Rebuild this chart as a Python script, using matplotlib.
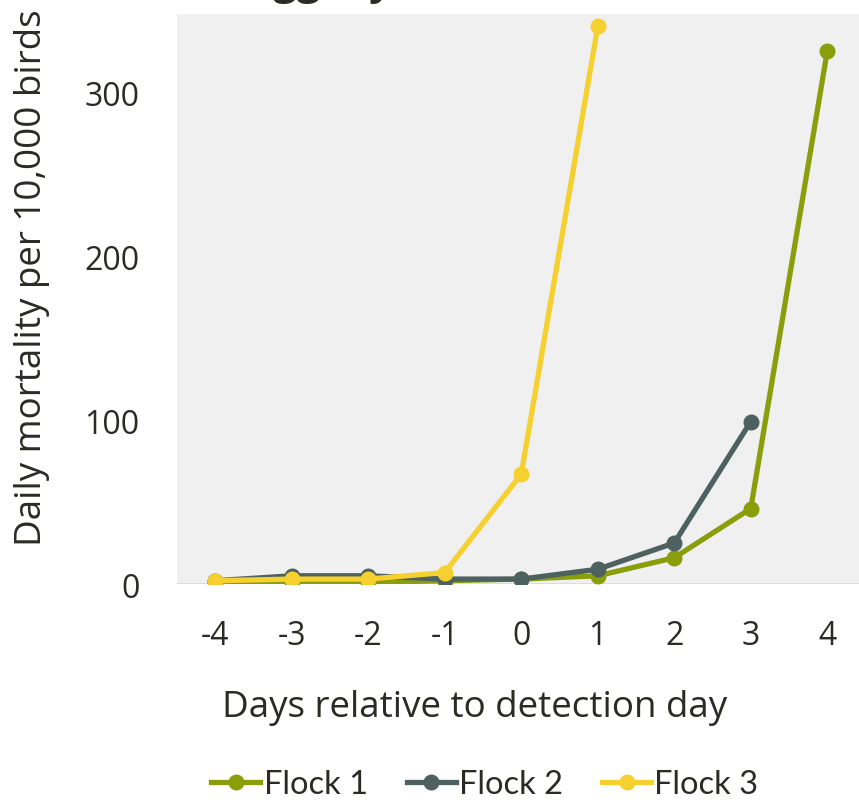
import matplotlib.pyplot as plt

days = [-4, -3, -2, -1, 0, 1, 2, 3, 4]
flock1 = [1, 1, 1, 2, 3, 5, 16, 46, 325]
flock2 = [2, 5, 5, 3, 3, 9, 25, 99]
flock3 = [2, 3, 3, 7, 67, 340]
yticks = [0, 100, 200, 300]

green = "#8A9E0C"
slate = "#4E6161"
yellow = "#F5D02F"
txt = "#2B2A25"

plt.rcParams["font.family"] = ["Open Sans", "DejaVu Sans"]

fig = plt.figure(figsize=(8.59, 8.03), dpi=100)
ax = fig.add_axes([177 / 859, 218 / 803, 682 / 859, 570 / 803])
ax.set_facecolor("#F0F0F0")

ax.plot(days[:len(flock1)], flock1, color=green, lw=3.8, marker="o", ms=10.5, label="Flock 1", zorder=3)
ax.plot(days[:len(flock2)], flock2, color=slate, lw=3.8, marker="o", ms=10.5, label="Flock 2", zorder=4)
ax.plot(days[:len(flock3)], flock3, color=yellow, lw=3.8, marker="o", ms=10.5, label="Flock 3", zorder=5)
ax.axhline(0, color="#DDDAD0", lw=2, zorder=2)

ax.set_xlim(-4.5, 4.415)
ax.set_ylim(0, 347.6)
ax.set_xticks(days)
ax.set_xticklabels([str(d) for d in days])
ax.set_yticks(yticks)
ax.tick_params(length=0, labelsize=23, colors=txt)
ax.tick_params(axis="y", pad=27)
ax.tick_params(axis="x", pad=25)
for s in ax.spines.values():
    s.set_visible(False)

fig.text(222 / 859, 1 - 708 / 803, "Days relative to detection day", fontsize=26.5,
         color=txt, va="center", ha="left")
fig.text(32 / 859, 1 - 278 / 803, "Daily mortality per 10,000 birds", fontsize=26.5,
         color=txt, rotation=90, va="center", ha="center")
# title, mostly cut off at the top of the picture
fig.text(250 / 859, 1 + 6 / 803, "Egg layers", fontsize=30, fontweight="bold",
         color=txt, va="baseline", ha="left")

fig.legend(loc="center", bbox_to_anchor=(485 / 859, 1 - 785 / 803), ncol=3,
           frameon=False, handlelength=1.5, handletextpad=0.1,
           columnspacing=1.2, labelcolor=txt, prop={"family": "Lato", "size": 23.5})

fig.savefig("out.png", dpi=100)
